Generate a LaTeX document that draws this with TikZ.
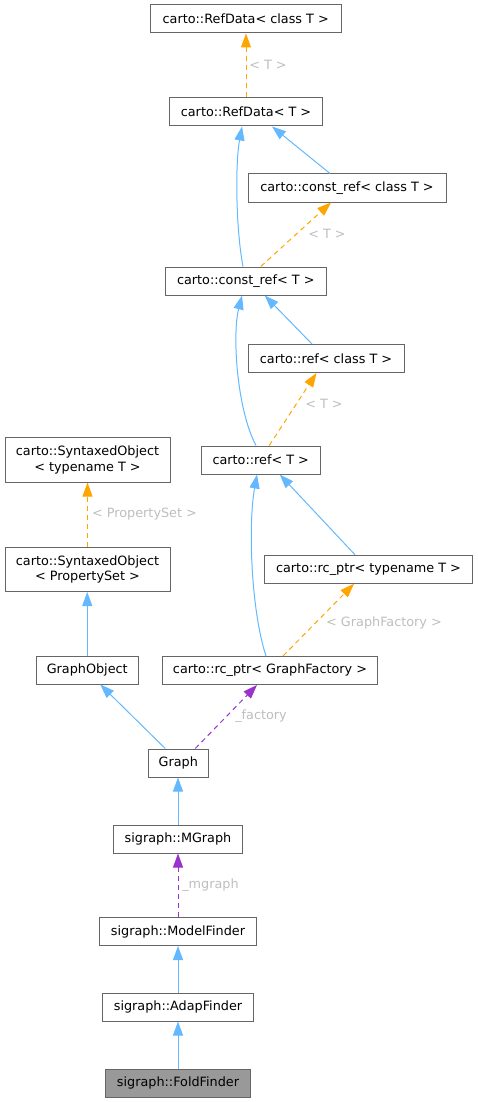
\documentclass[tikz,border=0pt]{standalone}
\usepackage{fontspec}
\setmainfont{DejaVu Sans}
\usetikzlibrary{arrows.meta}
\definecolor{edgeblue}{HTML}{63B8FF}
\definecolor{edgeorange}{HTML}{FFA500}
\definecolor{edgepurple}{HTML}{9A32CD}
\definecolor{boxborder}{HTML}{666666}
\definecolor{lblgray}{HTML}{BEBEBE}
\definecolor{focusfill}{HTML}{999999}
\tikzset{
  box/.style={draw=boxborder, line width=1pt, fill=white, inner sep=0pt, minimum height=28pt,
    font=\fontsize{12.8}{15.5}\selectfont, align=center},
  inh/.style={draw=edgeblue, line width=1pt, -{Triangle[length=14pt,width=10pt]}},
  tmpl/.style={draw=edgeorange, line width=1pt, dash pattern=on 5pt off 4pt, -{Triangle[length=14pt,width=10pt]}},
  usage/.style={draw=edgepurple, line width=1pt, dash pattern=on 5pt off 4pt, -{Triangle[length=14pt,width=10pt]}},
  lbl/.style={text=lblgray, inner sep=0pt, font=\fontsize{12.8}{15.5}\selectfont},
}
\begin{document}
\begin{tikzpicture}[x=1pt, y=-1pt]
\path[use as bounding box] (0,0) rectangle (478,1102);
% nodes
\node[box, minimum width=190.5pt] (rdc) at (245.75,19) {carto::RefData< class T >};
\node[box, minimum width=153pt] (rd) at (246,112) {carto::RefData< T >};
\node[box, minimum width=198pt] (crc) at (347,188) {carto::const\_ref< class T >};
\node[box, minimum width=160.5pt] (cr) at (245.75,281) {carto::const\_ref< T >};
\node[box, minimum width=156pt] (rfc) at (326,358.5) {carto::ref< class T >};
\node[box, minimum width=118.5pt] (rf) at (260.75,460) {carto::ref< T >};
\node[box, minimum width=165pt, minimum height=44.5pt] (soT) at (87.5,459.75) {carto::SyntaxedObject\\< typename T >};
\node[box, minimum width=165pt, minimum height=44.5pt] (soP) at (87.5,569.25) {carto::SyntaxedObject\\< PropertySet >};
\node[box, minimum width=208pt] (rpT) at (368.5,569.25) {carto::rc\_ptr< typename T >};
\node[box, minimum width=215pt] (rpG) at (270,670.5) {carto::rc\_ptr< GraphFactory >};
\node[box, minimum width=102.5pt] (go) at (87.25,670) {GraphObject};
\node[box, minimum width=60.5pt] (g) at (178.25,763) {Graph};
\node[box, minimum width=129pt] (mg) at (178,839) {sigraph::MGraph};
\node[box, minimum width=157.5pt] (mf) at (178,931.5) {sigraph::ModelFinder};
\node[box, minimum width=151pt] (af) at (178,1007) {sigraph::AdapFinder};
\node[box, minimum width=145pt, fill=focusfill] (ff) at (178,1083) {sigraph::FoldFinder};
% edges
\draw[tmpl] (rd.north) -- (rd.north |- rdc.south);
\node[lbl] (l1) at (268,65) {< T >};
\draw[inh] ([xshift=-2.75pt]cr.north) .. controls (236,230) and (235,165) .. ([xshift=-4pt]rd.south);
\draw[inh] ([xshift=-17pt]crc.north) -- ([xshift=26pt]rd.south);
\draw[tmpl] ([xshift=15pt]cr.north) -- ([xshift=-16pt]crc.south);
\node[lbl] (l2) at (327,234) {< T >};
\draw[inh] ([xshift=-4.75pt]rf.north) .. controls (237,410) and (232,335) .. ([xshift=-3.75pt]cr.south);
\draw[inh] ([xshift=-14pt]rfc.north) -- ([xshift=19pt]cr.south);
\draw[tmpl] ([xshift=8.5pt]rf.north) -- ([xshift=-9.5pt]rfc.south);
\node[lbl] (l3) at (324,404) {< T >};
\draw[inh] ([xshift=-4pt]rpG.north) .. controls (251,610) and (248,525) .. ([xshift=-3.75pt]rf.south);
\draw[inh] ([xshift=-13.5pt]rpT.north) -- ([xshift=19pt]rf.south);
\draw[tmpl] ([xshift=13pt]rpG.north) -- ([xshift=-14.5pt]rpT.south);
\node[lbl] (l4) at (384,623) {< GraphFactory >};
\draw[tmpl] (soP.north) -- (soT.south);
\node[lbl] (l5) at (144.5,514.5) {< PropertySet >};
\draw[inh] (go.north) -- (go.north |- soP.south);
\draw[inh] ([xshift=-13pt]g.north) -- ([xshift=13pt]go.south);
\draw[usage] ([xshift=17pt]g.north) -- ([xshift=-13pt]rpG.south);
\node[lbl] (l6) at (261,716) {\_factory};
\draw[inh] (mg.north) -- (mg.north |- g.south);
\draw[usage] (mf.north) -- (mf.north |- mg.south);
\node[lbl] (l7) at (210.5,885) {\_mgraph};
\draw[inh] (af.north) -- (af.north |- mf.south);
\draw[inh] (ff.north) -- (ff.north |- af.south);
\end{tikzpicture}
\end{document}
